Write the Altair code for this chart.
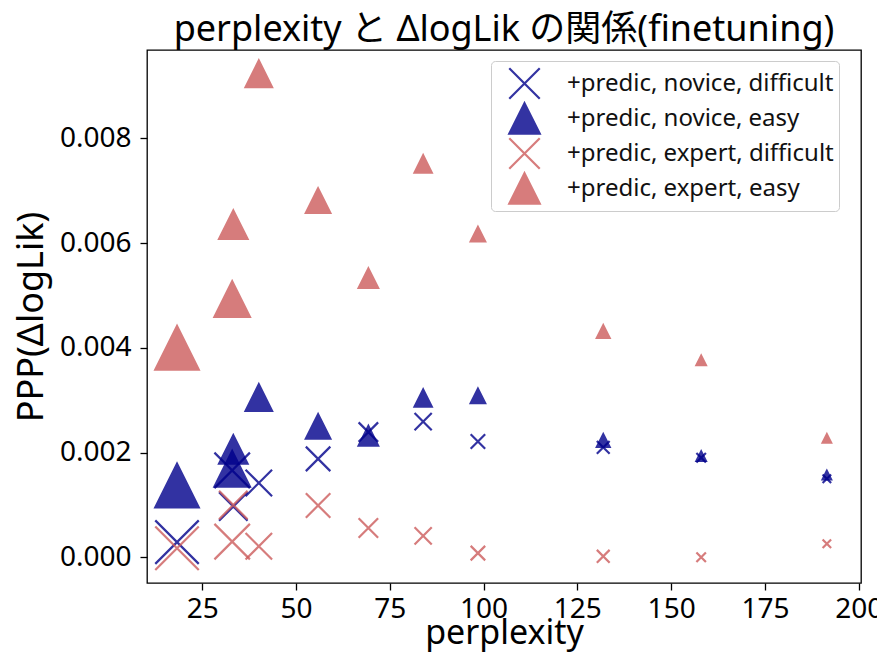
import altair as alt
import pandas as pd

# perplexity values (x) and marker widths (px) per point
perplexity = [18.3, 33.0, 33.3, 40.1, 55.9, 69.3, 83.9, 98.5, 131.9, 158.0, 191.5]
marker_w = [45, 37, 30, 28, 26, 21, 18.7, 16, 14.3, 11, 10]

novice_difficult = [0.00029, 0.00166, 0.00097, 0.00142, 0.00188, 0.00239, 0.00259, 0.00221, 0.00210, 0.00190, 0.00150]
novice_easy = [0.00137, 0.00169, 0.00206, 0.00305, 0.00250, 0.00232, 0.00304, 0.00308, 0.00223, 0.00193, 0.00157]
expert_difficult = [0.000175, 0.00030, 0.00100, 0.00021, 0.00099, 0.00056, 0.00041, 0.00008, 0.00002, 0.000003, 0.00026]
expert_easy = [0.00400, 0.00493, 0.00635, 0.00923, 0.00681, 0.00533, 0.00751, 0.00617, 0.00431, 0.00376, 0.00227]

series_names = [
    "+predic, novice, difficult",
    "+predic, novice, easy",
    "+predic, expert, difficult",
    "+predic, expert, easy",
]
series_values = [novice_difficult, novice_easy, expert_difficult, expert_easy]

BLUE = "#00008b"
RED = "#cd5c5c"
XPATH = "M-1,-1L1,1M-1,1L1,-1"
TRI = "M0,-1L-1,1L1,1Z"

rows = []
for name, vals in zip(series_names, series_values):
    for x, y, w in zip(perplexity, vals, marker_w):
        rows.append({"series": name, "perplexity": x, "ppp": y, "size": (w - 1.5) ** 2})
df = pd.DataFrame(rows)

FONT = "Noto Sans, Noto Sans CJK JP"

leg = alt.Legend(
    title=None,
    orient="none",
    legendX=344,
    legendY=11,
    symbolSize=930,
    symbolStrokeWidth=2.2,
    symbolOpacity=0.8,
    symbolOffset=12,
    labelOffset=26,
    labelFontSize=24,
    labelFont=FONT,
    labelColor="#111",
    rowPadding=0,
    clipHeight=35,
    padding=5,
    strokeColor="#cccccc",
    fillColor="white",
    cornerRadius=4,
    labelLimit=400,
)

chart = alt.Chart(df).mark_point(opacity=0.8, strokeWidth=2.2, filled=False).encode(
    x=alt.X(
        "perplexity:Q",
        scale=alt.Scale(domain=[10.3, 200.6], nice=False, zero=False),
        axis=alt.Axis(values=[25, 50, 75, 100, 125, 150, 175, 200], title="perplexity",
                      titlePadding=-7, labelPadding=5, titleFontSize=34),
    ),
    y=alt.Y(
        "ppp:Q",
        scale=alt.Scale(domain=[-0.00049, 0.009685], nice=False, zero=False),
        axis=alt.Axis(values=[0.0, 0.002, 0.004, 0.006, 0.008], format=".3f", title="PPP(ΔlogLik)",
                      titlePadding=9, labelPadding=9, titleFontSize=36),
    ),
    size=alt.Size("size:Q", scale=None),
    shape=alt.Shape("series:N", scale=alt.Scale(domain=series_names, range=[XPATH, TRI, XPATH, TRI]), legend=leg),
    fill=alt.Fill("series:N", scale=alt.Scale(domain=series_names, range=["transparent", BLUE, "transparent", RED]), legend=leg),
    stroke=alt.Stroke("series:N", scale=alt.Scale(domain=series_names, range=[BLUE, BLUE, RED, RED]), legend=leg),
    order=alt.Order("idx:Q"),
).transform_window(idx="row_number()").properties(
    width=714,
    height=533,
    autosize=alt.AutoSizeParams(type="none"),
    padding={"left": 139, "top": 42, "right": 16, "bottom": 72},
    title=alt.Title(
        "perplexity と ΔlogLik の関係(finetuning)",
        fontSize=36,
        font=FONT,
        fontWeight="normal",
        color="black",
        anchor="middle",
        offset=1,
    ),
).configure_view(
    stroke="black", strokeWidth=1.3
).configure_axis(
    grid=False,
    domain=False,
    tickColor="black",
    tickSize=7,
    tickWidth=1.3,
    labelFont=FONT,
    labelFontSize=28,
    labelColor="black",
    titleFont=FONT,
    titleFontSize=35,
    titleFontWeight="normal",
    titleColor="black",
)

chart.save("out.html", embed_options={"renderer": "svg", "actions": False})
